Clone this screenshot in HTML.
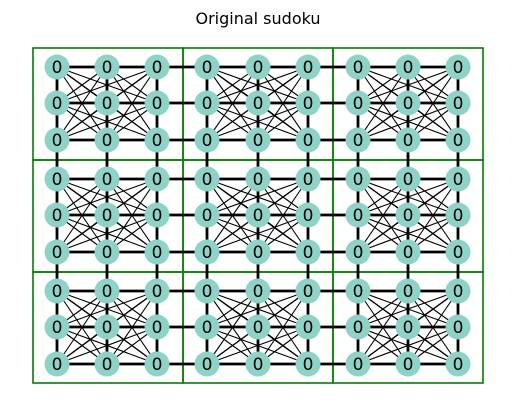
<!DOCTYPE html>
<html><head><meta charset="utf-8"><style>
body{margin:0;background:#fff;width:515px;height:411px;overflow:hidden}
svg{display:block}
text{font-family:"DejaVu Sans","Liberation Sans",sans-serif}
</style></head><body>
<svg id="c" width="515" height="411">
<text x="258" y="24" text-anchor="middle" font-size="16">Original sudoku</text>
</svg>
<script>
const colX=[57,107,157,207,258,308,358,408,458];
const rowY=[67,103,140,179,215,252,291,327,364];
const values=[
[0,0,0,0,0,0,0,0,0],[0,0,0,0,0,0,0,0,0],[0,0,0,0,0,0,0,0,0],
[0,0,0,0,0,0,0,0,0],[0,0,0,0,0,0,0,0,0],[0,0,0,0,0,0,0,0,0],
[0,0,0,0,0,0,0,0,0],[0,0,0,0,0,0,0,0,0],[0,0,0,0,0,0,0,0,0]];
const boxX=[33,183,333,483];
const boxY=[48,160,272,383];
const NS="http://www.w3.org/2000/svg";
const svg=document.getElementById('c');
function mk(t,a){const e=document.createElementNS(NS,t);for(const k in a)e.setAttribute(k,a[k]);svg.appendChild(e);return e;}
for(let i=0;i<3;i++)for(let j=0;j<3;j++){
 const r=mk('rect',{x:boxX[j],y:boxY[i],width:boxX[j+1]-boxX[j],height:boxY[i+1]-boxY[i],fill:'none',stroke:'#008000','stroke-width':1.6});
 
 
}
for(let r=0;r<9;r++){
 const l=mk('line',{x1:colX[0],y1:rowY[r],x2:colX[8],y2:rowY[r],stroke:'#000','stroke-width':2.8});
 
 
}
for(let c=0;c<9;c++){
 const l=mk('line',{x1:colX[c],y1:rowY[0],x2:colX[c],y2:rowY[8],stroke:'#000','stroke-width':2.8});
 
 
}
for(let br=0;br<3;br++)for(let bc=0;bc<3;bc++){
 const cells=[];for(let i=0;i<3;i++)for(let j=0;j<3;j++)cells.push([br*3+i,bc*3+j]);
 for(let a=0;a<9;a++)for(let b=a+1;b<9;b++){
  const p=cells[a],q=cells[b];
  if(p[0]===q[0]||p[1]===q[1])continue;
  const l=mk('line',{x1:colX[p[1]],y1:rowY[p[0]],x2:colX[q[1]],y2:rowY[q[0]],stroke:'#000','stroke-width':1.1});
  
  
 }
}
for(let r=0;r<9;r++)for(let c=0;c<9;c++){
 const n=mk('circle',{cx:colX[c],cy:rowY[r],r:12.5,fill:'#8dd3c7'});
 
 
 const t=mk('text',{x:colX[c],y:rowY[r]+6,'text-anchor':'middle','font-size':17,fill:'#000'});
 t.textContent=values[r][c];
 
 
}
</script>
</body></html>
